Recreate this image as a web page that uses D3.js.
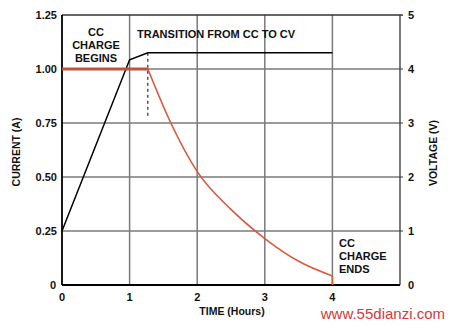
<!DOCTYPE html>
<html><head><meta charset="utf-8">
<script src="https://cdn.jsdelivr.net/npm/d3@7"></script>
<style>body{margin:0;background:#fff}svg{display:block}text{font-family:"Liberation Sans",Arial,sans-serif;font-weight:bold;fill:#111}</style>
</head><body>
<script>
const currentTicks = [0, 0.25, 0.5, 0.75, 1.0, 1.25];
const currentTickLabels = ["0", "0.25", "0.50", "0.75", "1.00", "1.25"];
const voltageTicks = [0, 1, 2, 3, 4, 5];
const timeTicks = [0, 1, 2, 3, 4];
const currentTime = [0, 1.27, 1.61, 2.0, 2.5, 3.0, 3.5, 4.0, 4.0];
const currentValue = [1.0, 1.0, 0.75, 0.525, 0.35, 0.215, 0.11, 0.042, 0];
const voltageTime = [0, 1.0, 1.27, 4.0];
const voltageValue = [1.0, 4.17, 4.3, 4.3];

const W = 450, H = 325;
const svg = d3.select("body").append("svg").attr("width", W).attr("height", H);
const x = d3.scaleLinear().domain([0, 5]).range([62, 400]);
const yC = d3.scaleLinear().domain([0, 1.25]).range([285, 15]);
const yV = d3.scaleLinear().domain([0, 5]).range([285, 15]);

// grid
svg.append("g").selectAll("line").data(currentTicks.slice(1, 5)).join("line")
  .attr("x1", x(0)).attr("x2", x(5) + 3).attr("y1", d => yC(d)).attr("y2", d => yC(d))
  .attr("stroke", "#7a7a7a").attr("stroke-width", 1.5);
svg.append("g").selectAll("line").data(timeTicks.slice(1)).join("line")
  .attr("x1", d => x(d)).attr("x2", d => x(d)).attr("y1", yC(0)).attr("y2", yC(1.25))
  .attr("stroke", "#7a7a7a").attr("stroke-width", 1.5);
// frame
svg.append("line").attr("x1", x(0)).attr("x2", x(5) + 3).attr("y1", yC(1.25)).attr("y2", yC(1.25)).attr("stroke", "#333").attr("stroke-width", 1.3);
svg.append("line").attr("x1", x(5)).attr("x2", x(5)).attr("y1", yC(1.25)).attr("y2", yC(0)).attr("stroke", "#333").attr("stroke-width", 1.3);
svg.append("line").attr("x1", x(0)).attr("x2", x(0)).attr("y1", yC(1.25)).attr("y2", yC(0)).attr("stroke", "#000").attr("stroke-width", 1.8);
svg.append("line").attr("x1", x(0)).attr("x2", x(5)).attr("y1", yC(0)).attr("y2", yC(0)).attr("stroke", "#000").attr("stroke-width", 1.8);

// tick labels
svg.append("g").selectAll("text").data(currentTicks).join("text")
  .attr("x", (d, i) => i === 0 ? 56 : 57).attr("y", d => yC(d) + 4).attr("text-anchor", "end")
  .attr("font-size", 11).text((d, i) => currentTickLabels[i]);
svg.append("g").selectAll("text").data(voltageTicks).join("text")
  .attr("x", 408).attr("y", d => yV(d) + 4).attr("font-size", 11).text(d => d);
svg.append("g").selectAll("text").data(timeTicks).join("text")
  .attr("x", d => x(d)).attr("y", 301).attr("text-anchor", "middle").attr("font-size", 11).text(d => d);

// axis titles
svg.append("text").attr("transform", "translate(20,152) rotate(-90)").attr("text-anchor", "middle").attr("font-size", 10.5).text("CURRENT (A)");
svg.append("text").attr("transform", "translate(437,153) rotate(-90)").attr("text-anchor", "middle").attr("font-size", 10.5).text("VOLTAGE (V)");
svg.append("text").attr("x", 232).attr("y", 315).attr("text-anchor", "middle").attr("font-size", 10.5).text("TIME (Hours)");

// dotted transition line
svg.append("line").attr("x1", x(1.27)).attr("x2", x(1.27)).attr("y1", yV(4.3)).attr("y2", 118)
  .attr("stroke", "#000").attr("stroke-width", 1).attr("stroke-dasharray", "3,3");

// voltage line
svg.append("path").datum(voltageTime.map((t, i) => [t, voltageValue[i]]))
  .attr("d", d3.line().x(d => x(d[0])).y(d => yV(d[1])))
  .attr("fill", "none").attr("stroke", "#000").attr("stroke-width", 1.5);

// current line
const cur = currentTime.map((t, i) => [t, currentValue[i]]);
svg.append("path").datum(cur.slice(0, 2))
  .attr("d", d3.line().x(d => x(d[0])).y(d => yC(d[1])))
  .attr("fill", "none").attr("stroke", "#b8553f").attr("stroke-width", 3);
svg.append("path").datum(cur.slice(1, 8))
  .attr("d", d3.line().curve(d3.curveMonotoneX).x(d => x(d[0])).y(d => yC(d[1])))
  .attr("fill", "none").attr("stroke", "#d85a3e").attr("stroke-width", 1.6);
svg.append("path").datum(cur.slice(7))
  .attr("d", d3.line().x(d => x(d[0])).y(d => yC(d[1])))
  .attr("fill", "none").attr("stroke", "#d85a3e").attr("stroke-width", 1.6);

// annotations
const ann = (lines, cx, y0, anchor) => {
  const t = svg.append("text").attr("font-size", 11).attr("text-anchor", anchor);
  lines.forEach((s, i) => t.append("tspan").attr("x", cx).attr("y", y0 + i * 13).text(s));
};
ann(["CC", "CHARGE", "BEGINS"], 96, 36, "middle");
ann(["TRANSITION FROM CC TO CV"], 137, 38, "start");
ann(["CC", "CHARGE", "ENDS"], 339, 247, "start");

// watermark
svg.append("text").attr("x", 445).attr("y", 319).attr("text-anchor", "end")
  .attr("font-size", 15).style("font-weight", "normal").style("fill", "#d43a3a").text("www.55dianzi.com");
</script>
</body></html>
